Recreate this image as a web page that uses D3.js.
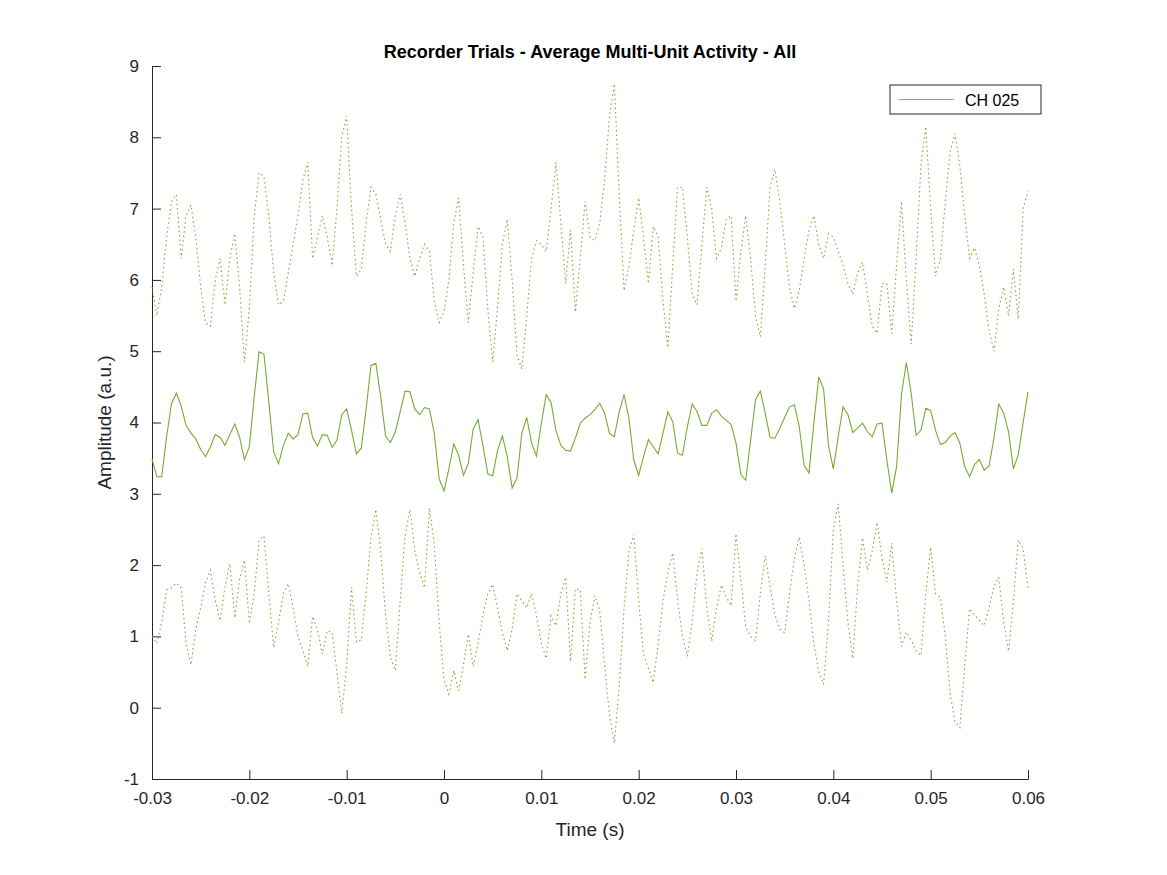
<!DOCTYPE html>
<html>
<head>
<meta charset="utf-8">
<script src="https://cdn.jsdelivr.net/npm/d3@7"></script>
<style>
  body { margin: 0; background: #fff; }
  svg { font-family: "Liberation Sans", Arial, sans-serif; }
</style>
</head>
<body>
<svg width="1167" height="875"></svg>
<script>
// Time axis: -0.03 .. 0.06 s, one sample every 0.5 ms
var t0 = -0.03, dt = 0.0005;

// Average multi-unit activity (solid line)
var meanValues = [
  3.49,3.24,3.24,3.80,4.26,4.41,4.23,3.96,3.85,3.77,3.62,3.52,3.66,3.83,3.79,3.68,3.83,3.98,3.79,3.48,
  3.66,4.36,4.99,4.96,4.29,3.59,3.42,3.68,3.85,3.77,3.83,4.12,4.13,3.79,3.67,3.83,3.82,3.65,3.75,4.11,
  4.19,3.89,3.56,3.64,4.19,4.80,4.83,4.36,3.81,3.72,3.87,4.15,4.44,4.43,4.19,4.11,4.21,4.19,3.85,3.21,
  3.04,
  3.35,3.70,3.54,3.26,3.43,3.91,4.04,3.68,3.28,3.25,3.61,3.81,3.52,3.08,3.22,3.85,4.07,3.71,3.53,3.99,
  4.39,4.28,3.89,3.68,3.61,3.60,3.78,3.99,4.06,4.11,4.18,4.27,4.13,3.85,3.80,4.15,4.39,4.06,3.47,3.26,
  3.52,3.76,3.66,3.56,3.85,4.15,4.01,3.57,3.54,3.94,4.26,4.15,3.96,3.96,4.13,4.18,4.09,4.03,
  3.97,3.71,3.27,3.19,3.75,4.32,4.44,4.13,3.79,3.78,3.92,4.07,4.22,4.25,3.94,3.40,3.29,3.99,4.64,4.47,
  3.68,3.35,3.80,4.22,4.11,3.86,3.92,3.99,3.87,3.80,3.98,3.99,3.47,3.01,3.38,4.39,4.84,4.41,3.82,3.89,
  4.20,4.17,3.89,3.69,3.72,3.81,3.86,3.71,3.38,3.24,3.41,3.48,3.33,3.39,3.78,4.26,4.13,3.87,
  3.35,3.55,4.00,4.43
];

// Upper envelope (dotted)
var upperValues = [
  5.9,5.5,5.9,6.6,7.1,7.2,6.3,6.9,7.05,6.6,5.9,5.4,5.35,6.0,6.3,5.65,6.3,6.65,5.9,4.85,
  5.6,6.9,7.5,7.45,6.9,6.1,5.65,5.7,6.1,6.5,6.9,7.4,7.65,6.3,6.6,6.9,6.6,6.2,7.0,8.0,
  8.3,7.0,6.05,6.15,6.8,7.3,7.2,6.85,6.5,6.4,6.9,7.2,6.8,6.3,6.05,6.3,6.5,6.4,5.7,5.4,
  5.55,6.0,6.8,7.15,6.2,5.4,6.1,6.75,6.6,5.6,4.85,5.6,6.5,6.85,6.0,4.95,4.75,5.5,6.3,6.55,
  6.5,6.4,7.0,7.65,6.8,5.95,6.7,5.55,6.3,7.1,6.6,6.55,6.8,7.4,8.3,8.75,7.2,5.85,6.2,6.7,
  7.15,6.6,5.95,6.75,6.6,5.7,5.05,6.2,7.3,7.3,6.6,5.8,5.65,6.5,7.3,7.0,6.3,6.45,6.85,6.9,
  5.7,6.4,6.9,6.3,5.5,5.2,6.2,7.3,7.55,7.1,6.5,5.9,5.6,5.85,6.3,6.7,6.9,6.5,6.3,6.65,
  6.6,6.4,6.2,5.95,5.8,6.1,6.25,5.8,5.35,5.25,5.95,5.95,5.25,6.2,7.1,6.0,5.1,6.3,7.6,8.15,
  7.0,6.05,6.3,7.1,7.8,8.05,7.6,6.9,6.3,6.45,6.2,5.8,5.3,5.0,5.6,5.9,5.5,6.15,5.45,7.0,
  7.25
];

// Lower envelope (dotted)
var lowerValues = [
  1.0,0.9,1.2,1.65,1.68,1.75,1.68,0.9,0.6,1.1,1.4,1.75,1.93,1.5,1.22,1.7,2.02,1.26,1.8,2.07,
  1.18,1.6,2.35,2.41,1.6,0.84,1.2,1.6,1.74,1.4,1.0,0.8,0.58,1.28,1.1,0.75,1.08,1.06,0.5,-0.08,
  0.6,1.69,0.92,0.95,1.6,2.4,2.78,2.2,1.3,0.7,0.52,1.5,2.4,2.78,2.2,1.9,1.68,2.8,2.3,1.2,
  0.4,0.19,0.52,0.24,0.6,1.03,0.58,0.9,1.3,1.6,1.73,1.4,1.05,0.8,1.1,1.6,1.5,1.4,1.6,1.3,
  0.9,0.69,1.29,1.15,1.6,1.83,0.65,1.67,1.65,0.4,1.2,1.57,1.36,0.6,-0.1,-0.5,0.3,1.4,2.2,2.43,
  1.5,0.75,0.55,0.35,0.9,1.5,1.9,2.17,1.5,1.0,0.72,1.2,1.9,2.23,1.4,0.93,1.4,1.72,1.55,1.43,
  2.44,1.8,1.13,1.0,0.94,1.6,2.13,1.7,1.3,1.1,1.05,1.6,2.1,2.39,2.0,1.5,0.9,0.5,0.33,1.2,
  2.5,2.86,2.0,1.2,0.69,1.7,2.38,1.93,2.2,2.6,2.1,1.76,2.31,1.5,0.86,1.06,0.95,0.8,0.73,1.6,
  2.25,1.6,1.55,1.0,0.2,-0.2,-0.28,0.6,1.39,1.3,1.23,1.15,1.4,1.7,1.83,1.2,0.79,1.5,2.35,2.23,
  1.68
];

var xTicks = [-0.03, -0.02, -0.01, 0, 0.01, 0.02, 0.03, 0.04, 0.05, 0.06];
var yTicks = [-1, 0, 1, 2, 3, 4, 5, 6, 7, 8, 9];

var svg = d3.select("svg");
var mLeft = 152, mRight = 1028, mTop = 66, mBottom = 779;
var green = "#77ac30";

var x = d3.scaleLinear().domain([-0.03, 0.06]).range([mLeft, mRight]);
var y = d3.scaleLinear().domain([-1, 9]).range([mBottom, mTop]);

// Axes, ticks pointing inward like MATLAB
var xAxis = svg.append("g")
  .attr("transform", "translate(0," + mBottom + ")")
  .call(d3.axisBottom(x).tickValues(xTicks).tickSize(-9).tickPadding(13)
    .tickFormat(function(d) { return String(+d.toFixed(2)); }));
var yAxis = svg.append("g")
  .attr("transform", "translate(" + mLeft + ",0)")
  .call(d3.axisLeft(y).tickValues(yTicks).tickSize(-9).tickPadding(13)
    .tickFormat(function(d) { return String(d); }));

[xAxis, yAxis].forEach(function(a) {
  a.select(".domain").attr("stroke", "#262626").attr("stroke-width", 1);
  a.selectAll(".tick line").attr("stroke", "#262626");
  a.selectAll("text").attr("fill", "#262626").attr("font-size", 17)
    .attr("font-family", "Liberation Sans, Arial, sans-serif");
});

function series(vals) {
  return vals.map(function(v, i) { return {t: t0 + i * dt, v: v}; });
}
var line = d3.line().x(function(d) { return x(d.t); }).y(function(d) { return y(d.v); });

svg.append("path").datum(series(upperValues))
  .attr("d", line).attr("fill", "none").attr("stroke", green)
  .attr("stroke-width", 1.1).attr("stroke-dasharray", "1.5,3");
svg.append("path").datum(series(lowerValues))
  .attr("d", line).attr("fill", "none").attr("stroke", green)
  .attr("stroke-width", 1.1).attr("stroke-dasharray", "1.5,3");
svg.append("path").datum(series(meanValues))
  .attr("d", line).attr("fill", "none").attr("stroke", green)
  .attr("stroke-width", 1.1);

// Labels
svg.append("text").attr("x", (mLeft + mRight) / 2).attr("y", 58)
  .attr("text-anchor", "middle").attr("font-size", 18).attr("font-weight", "bold")
  .attr("fill", "#000").text("Recorder Trials - Average Multi-Unit Activity - All");
svg.append("text").attr("x", (mLeft + mRight) / 2).attr("y", 836)
  .attr("text-anchor", "middle").attr("font-size", 19).attr("fill", "#262626")
  .text("Time (s)");
svg.append("text").attr("transform", "translate(111," + ((mTop + mBottom) / 2) + ") rotate(-90)")
  .attr("text-anchor", "middle").attr("font-size", 19).attr("fill", "#262626")
  .text("Amplitude (a.u.)");

// Legend
var lg = svg.append("g").attr("transform", "translate(890,85)");
lg.append("rect").attr("width", 151).attr("height", 29)
  .attr("fill", "#fff").attr("stroke", "#262626").attr("stroke-width", 1);
lg.append("line").attr("x1", 9).attr("x2", 64).attr("y1", 14.5).attr("y2", 14.5)
  .attr("stroke", "#8fa878").attr("stroke-width", 1);
lg.append("text").attr("x", 75).attr("y", 20.5).attr("font-size", 16)
  .attr("fill", "#000").text("CH 025");
</script>
</body>
</html>
